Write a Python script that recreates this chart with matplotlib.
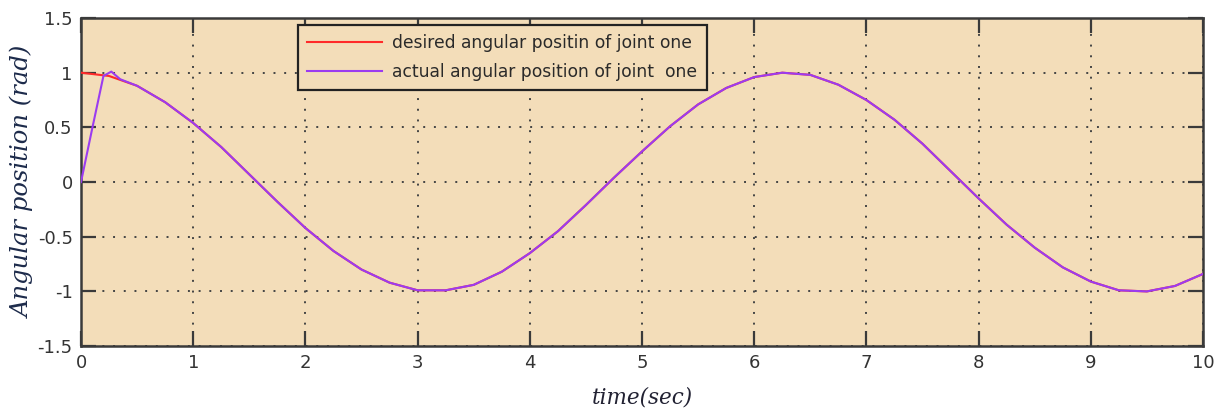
import numpy as np
import matplotlib
matplotlib.use('Agg')
import matplotlib.pyplot as plt

# ---- joint one angular position (rad) vs time (sec) ----
t_desired = [0.0, 0.25, 0.5, 0.75, 1.0, 1.25, 1.5, 1.75, 2.0, 2.25, 2.5, 2.75,
             3.0, 3.25, 3.5, 3.75, 4.0, 4.25, 4.5, 4.75, 5.0, 5.25, 5.5, 5.75,
             6.0, 6.25, 6.5, 6.75, 7.0, 7.25, 7.5, 7.75, 8.0, 8.25, 8.5, 8.75,
             9.0, 9.25, 9.5, 9.75, 10.0]
q_desired = [1.00, 0.97, 0.88, 0.73, 0.54, 0.32, 0.07, -0.18, -0.42, -0.63, -0.80, -0.92,
             -0.99, -0.99, -0.94, -0.82, -0.65, -0.45, -0.21, 0.04, 0.28, 0.51, 0.71, 0.86,
             0.96, 1.00, 0.98, 0.89, 0.75, 0.57, 0.35, 0.10, -0.15, -0.39, -0.60, -0.78,
             -0.91, -0.99, -1.00, -0.95, -0.84]

t_actual = [0.0, 0.1, 0.2, 0.27, 0.35, 0.5, 0.75, 1.0, 1.25, 1.5, 1.75, 2.0, 2.25, 2.5, 2.75,
            3.0, 3.25, 3.5, 3.75, 4.0, 4.25, 4.5, 4.75, 5.0, 5.25, 5.5, 5.75,
            6.0, 6.25, 6.5, 6.75, 7.0, 7.25, 7.5, 7.75, 8.0, 8.25, 8.5, 8.75,
            9.0, 9.25, 9.5, 9.75, 10.0]
q_actual = [0.00, 0.49, 0.97, 1.01, 0.94, 0.88, 0.73, 0.54, 0.32, 0.07, -0.18, -0.42, -0.63, -0.80, -0.92,
            -0.99, -0.99, -0.94, -0.82, -0.65, -0.45, -0.21, 0.04, 0.28, 0.51, 0.71, 0.86,
            0.96, 1.00, 0.98, 0.89, 0.75, 0.57, 0.35, 0.10, -0.15, -0.39, -0.60, -0.78,
            -0.91, -0.99, -1.00, -0.95, -0.84]

x_ticks = [0, 1, 2, 3, 4, 5, 6, 7, 8, 9, 10]
y_ticks = [-1.5, -1, -0.5, 0, 0.5, 1, 1.5]
y_tick_labels = ['-1.5', '-1', '-0.5', '0', '0.5', '1', '1.5']

BG = '#f3ddb9'
EDGE = '#3a3a3a'

fig = plt.figure(figsize=(12.2, 4.19), dpi=100)
fig.patch.set_facecolor('white')
ax = fig.add_axes([0.0664, 0.174, 0.9197, 0.783])
ax.set_facecolor(BG)

ax.plot(t_desired, q_desired, color='#ff2a2a', lw=1.5,
        label='desired angular positin of joint one', zorder=3)
ax.plot(t_actual, q_actual, color='#9b3cf0', lw=1.5,
        label='actual angular position of joint  one', zorder=4)

ax.set_xlim(0, 10)
ax.set_ylim(-1.5, 1.5)
ax.set_xticks(x_ticks)
ax.set_yticks(y_ticks)
ax.set_yticklabels(y_tick_labels)
ax.tick_params(direction='in', length=11, width=1.6, colors=EDGE,
               labelsize=13, labelcolor='#333333', top=True, right=True, pad=6)

ax.grid(True, color='#444444', ls=(0, (1, 4.5)), lw=1.4)
for spine in ax.spines.values():
    spine.set_color(EDGE)
    spine.set_linewidth(1.8)

ax.set_xlabel('time(sec)', fontsize=15.5, family='DejaVu Serif', style='italic',
              color='#222233', labelpad=10)
ax.set_ylabel('Angular position (rad)', fontsize=17.5, family='DejaVu Serif',
              style='italic', color='#1c2a4a', labelpad=2)

leg = ax.legend(loc='upper left', bbox_to_anchor=(0.193, 0.98), fontsize=12.3,
                frameon=True, fancybox=False, facecolor=BG, framealpha=1,
                edgecolor='#222222', handlelength=4.4, borderpad=0.55,
                labelspacing=0.62, handletextpad=0.6, borderaxespad=0)
leg.get_frame().set_linewidth(1.6)
for txt in leg.get_texts():
    txt.set_color('#2a2a2a')

fig.savefig('out.png', dpi=100, facecolor=fig.get_facecolor())
